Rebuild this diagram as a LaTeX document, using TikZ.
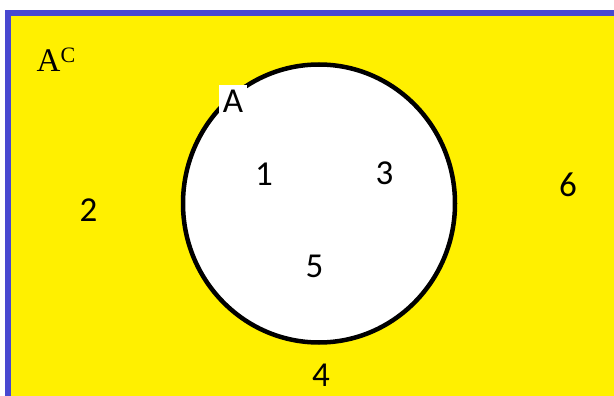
\documentclass[tikz,border=0pt]{standalone}
\usepackage{fontspec}
\setmainfont{Carlito}
\newfontfamily\serifcap{Liberation Serif}
\usetikzlibrary{positioning}

\definecolor{venyellow}{RGB}{255,240,0}
\definecolor{venblue}{RGB}{72,72,208}

\begin{document}
\begin{tikzpicture}[
    x = 1pt, y = -1pt,
    every node/.style = {font=\fontsize{35}{40}\selectfont, inner sep=0pt},
    element/.style = {text=black},
    setlabel/.style = {
        fill=white,
        minimum width=28pt,
        minimum height=33pt
    }
]

\useasboundingbox (0,0) rectangle (614,396);
\clip (0,0) rectangle (614,396);

% universal set
\fill[venyellow] (8,13) rectangle (630,410);
\draw[venblue, line width=6pt] (8,410) -- (8,13) -- (630,13);

% set A
\draw[black, fill=white, line width=4.5pt] (319,203.5) ellipse [x radius=136, y radius=139];
\node[setlabel] (labA) at (233,101.5) {A};

\node (labAc) at (56,60) {\serifcap\fontsize{33}{36}\selectfont A\raisebox{9pt}{\fontsize{22}{24}\selectfont C}};

% elements
\node[element] (e1) at (264,174.5) {1};
\node[element] (e3) at (384.5,173) {3};
\node[element] (e5) at (314.5,266) {5};
\node[element] (e2) at (88.5,210) {2};
\node[element] (e6) at (568,185) {6};
\node[element] (e4) at (321,375) {4};

\end{tikzpicture}
\end{document}
